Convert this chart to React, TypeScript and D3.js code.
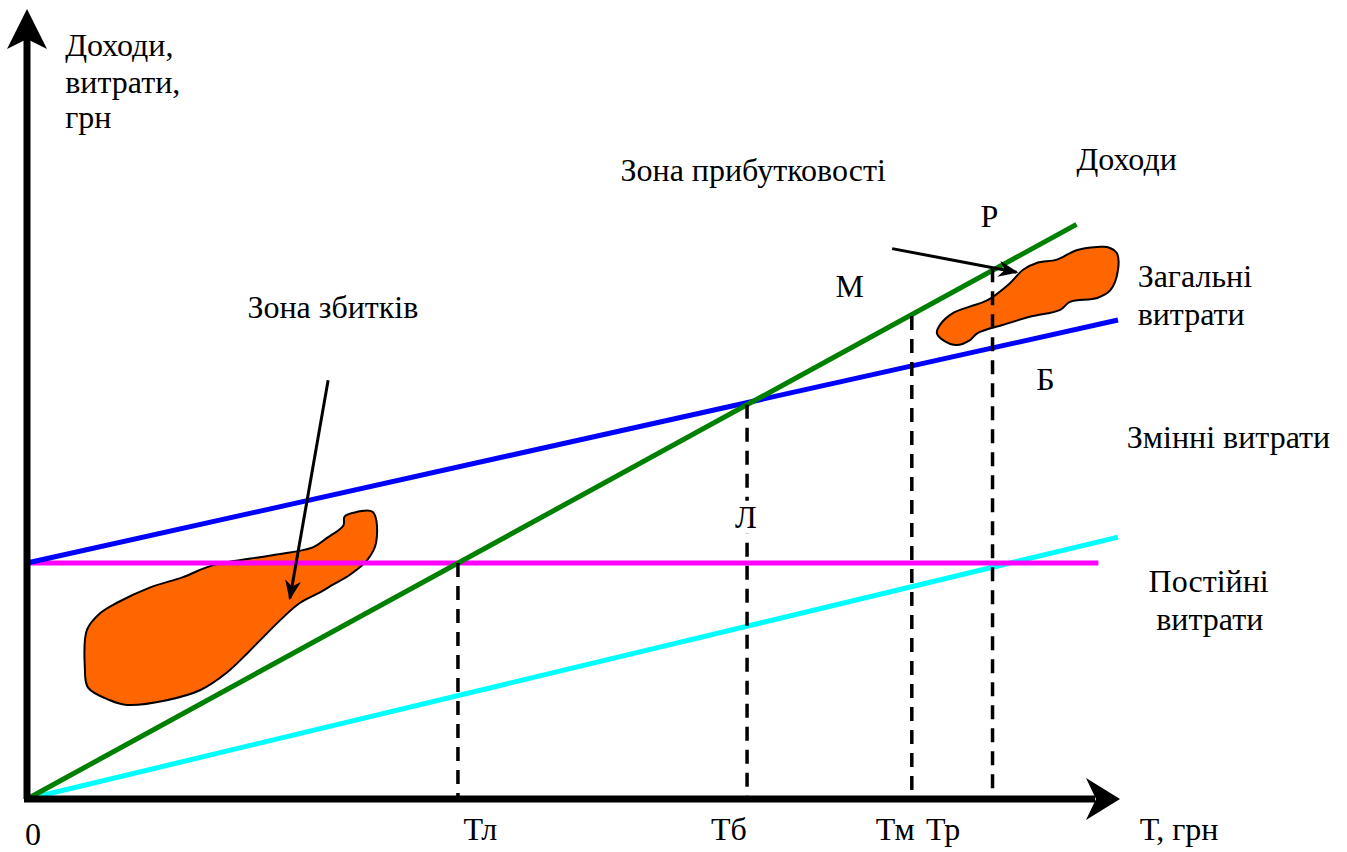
import React from "react";
import * as d3 from "d3";

// break-even chart: T (turnover) on x, income / costs on y, both in arbitrary units 0..100
const revenueT = [0, 96.2];
const revenueV = [0, 73.3];
const totalCostT = [0, 100];
const totalCostV = [30.1, 61.1];
const fixedCostT = [0, 98.2];
const fixedCostV = [30.1, 30.1];
const variableCostT = [0, 100];
const variableCostV = [0, 33.4];

// vertical dashed drops to the x axis
const dropNames = ["Тл", "Тб", "Тм", "Тр"];
const dropT = [39.5, 66.0, 81.1, 88.5];
const dropTop = [30.1, 50.3, 61.6, 67.7];
const dropLabelT = [40.0, 62.7, 77.8, 82.4];

// loss zone blob outline
const lossBlobT = [29.9, 31.7, 32.0, 31.2, 29.6, 28.0, 26.9, 25.0, 23.5, 21.4, 20.2, 18.3, 15.9, 12.8, 9.2, 7.6, 5.6, 5.3, 5.5, 6.7, 8.2, 11.3, 14.3, 17.0, 22.5, 26.2, 27.5, 29.0, 29.1];
const lossBlobV = [36.5, 36.6, 32.7, 30.5, 28.6, 27.3, 26.4, 25.0, 23.2, 20.3, 18.6, 16.1, 13.9, 12.6, 12.0, 12.6, 14.2, 16.8, 21.6, 23.7, 25.0, 27.0, 28.3, 29.8, 31.1, 32.1, 33.3, 34.9, 36.0];

// profit zone blob outline
const profitBlobT = [99.0, 99.9, 100.0, 99.3, 98.1, 95.6, 94.7, 91.9, 89.5, 87.1, 86.4, 85.2, 84.0, 83.4, 83.7, 84.9, 86.4, 88.0, 90.1, 91.3, 92.6, 94.4, 96.2, 98.1];
const profitBlobV = [70.4, 69.6, 67.5, 64.9, 63.9, 63.4, 62.4, 61.5, 60.5, 59.4, 58.5, 57.9, 58.5, 59.4, 60.5, 62.0, 62.8, 63.6, 65.8, 67.5, 68.4, 68.8, 70.0, 70.4];

// pointer arrows [from, to]
const arrowFromT = [27.6, 79.3];
const arrowFromV = [53.4, 70.2];
const arrowToT = [24.1, 90.7];
const arrowToV = [25.6, 67.2];

// text labels
const noteText = ["Доходи,", "витрати,", "грн", "Зона прибутковості", "Доходи", "Р", "М", "Зона збитків", "Загальні", "витрати", "Б", "Змінні витрати", "Постійні", "витрати", "Л"];
const noteT = [3.5, 3.5, 3.5, 54.4, 96.2, 87.4, 74.1, 20.2, 101.8, 101.8, 92.5, 100.8, 102.8, 103.5, 64.9];
const noteV = [94.8, 90.1, 85.6, 78.8, 80.2, 73.0, 64.0, 61.4, 65.3, 60.5, 52.2, 44.8, 26.4, 21.6, 34.6];

const W = 1347;
const H = 852;
const font = "Liberation Serif";
const fs = 32;

export default function App() {
  const x = d3.scaleLinear().domain([0, 100]).range([27, 1118]);
  const y = d3.scaleLinear().domain([0, 100]).range([799, 15]);

  const seg = (ts: number[], vs: number[]) =>
    d3.line<number>().x((t) => x(t)).y((_, i) => y(vs[i]))(ts) || "";

  const blob = d3
    .line<number>()
    .curve(d3.curveCatmullRomClosed.alpha(0.5));
  const blobPath = (ts: number[], vs: number[]) =>
    blob.x((t) => x(t)).y((_, i) => y(vs[i]))(ts) || "";

  const x0 = x(0), y0 = y(0);
  const xEnd = x(100) + 2, yTop = 9;

  return (
    <svg width={W} height={H} style={{ position: "absolute", left: 0, top: 0, background: "#fff" }}>
      <defs>
        <marker id="ptr" viewBox="0 0 20 16" refX="18" refY="8" markerWidth="20" markerHeight="16" markerUnits="userSpaceOnUse" orient="auto">
          <path d="M0,0 L20,8 L0,16 L6,8 Z" fill="#000" />
        </marker>
      </defs>

      {/* blobs */}
      <path d={blobPath(lossBlobT, lossBlobV)} fill="#ff6600" stroke="#000" strokeWidth={2} />
      <path d={blobPath(profitBlobT, profitBlobV)} fill="#ff6600" stroke="#000" strokeWidth={2} />

      {/* cost / revenue lines */}
      <path d={seg(variableCostT, variableCostV)} stroke="#00ffff" strokeWidth={5} fill="none" />
      <path d={seg(fixedCostT, fixedCostV)} stroke="#ff00ff" strokeWidth={5} fill="none" />
      <path d={seg(totalCostT, totalCostV)} stroke="#0000ff" strokeWidth={5} fill="none" />
      <path d={seg(revenueT, revenueV)} stroke="#008000" strokeWidth={5} fill="none" />

      {/* dashed drops */}
      {dropT.map((t, i) => (
        <line key={i} x1={x(t)} x2={x(t)} y1={y(dropTop[i])} y2={y0} stroke="#000" strokeWidth={3.5} strokeDasharray="14,9" />
      ))}
      {/* white box behind Л */}
      <rect x={x(64.9) - 2} y={y(34.6) - 27} width={28} height={33} fill="#fff" />

      {/* pointer arrows */}
      {arrowFromT.map((t, i) => (
        <line key={i} x1={x(t)} y1={y(arrowFromV[i])} x2={x(arrowToT[i])} y2={y(arrowToV[i])} stroke="#000" strokeWidth={3} markerEnd="url(#ptr)" />
      ))}

      {/* axes */}
      <line x1={x0} y1={y0} x2={x0} y2={yTop + 25} stroke="#000" strokeWidth={7} />
      <path d={`M${x0},${yTop} L${x0 + 20},${yTop + 40} L${x0},${yTop + 30} L${x0 - 20},${yTop + 40} Z`} fill="#000" />
      <line x1={x0 - 3} y1={y0} x2={xEnd - 25} y2={y0} stroke="#000" strokeWidth={7} />
      <path d={`M${xEnd},${y0} L${xEnd - 34},${y0 - 21} L${xEnd - 24},${y0} L${xEnd - 34},${y0 + 21} Z`} fill="#000" />

      {/* labels */}
      {noteText.map((s, i) => (
        <text key={i} x={x(noteT[i])} y={y(noteV[i])} fontFamily={font} fontSize={fs} fill="#000">{s}</text>
      ))}
      {dropNames.map((s, i) => (
        <text key={"d" + i} x={x(dropLabelT[i])} y={840} fontFamily={font} fontSize={fs} fill="#000">{s}</text>
      ))}
      <text x={25} y={845} fontFamily={font} fontSize={fs}>0</text>
      <text x={x(102.0)} y={840} fontFamily={font} fontSize={fs}>Т, грн</text>
    </svg>
  );
}
